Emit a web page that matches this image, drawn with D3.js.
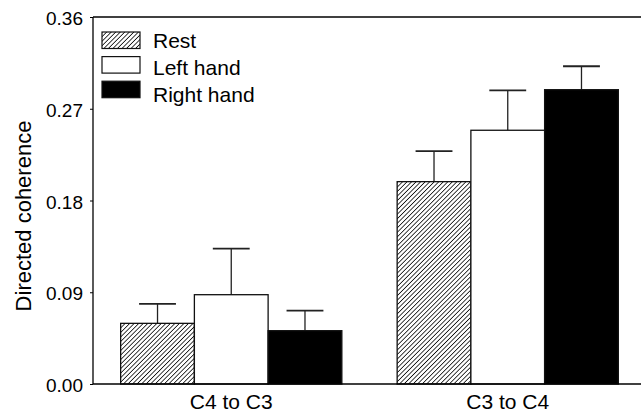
<!DOCTYPE html>
<html>
<head>
<meta charset="utf-8">
<script src="https://cdn.jsdelivr.net/npm/d3@7"></script>
<style>
  body { margin: 0; background: #fff; }
  text { font-family: "Liberation Sans", Arial, sans-serif; fill: #000; }
</style>
</head>
<body>
<svg id="mainSvg" width="641" height="414"></svg>
<script>
// chart values
var categories = ["C4 to C3", "C3 to C4"];
var conditions = ["Rest", "Left hand", "Right hand"];
var rest = [0.0595, 0.1985];
var restErr = [0.0190, 0.0300];
var leftHand = [0.0876, 0.2489];
var leftHandErr = [0.0451, 0.0391];
var rightHand = [0.0523, 0.2887];
var rightHandErr = [0.0196, 0.0230];
var yTicks = [0.00, 0.09, 0.18, 0.27, 0.36];

var series = [rest, leftHand, rightHand];
var errors = [restErr, leftHandErr, rightHandErr];

var svg = d3.select("#mainSvg");
var plotLeft = 93, plotRight = 641, plotTop = 17, plotBottom = 384;

// hatch pattern for the rest bars
var defs = svg.append("defs");
defs.append("pattern").attr("id", "hatch").attr("patternUnits", "userSpaceOnUse")
    .attr("width", 3.2).attr("height", 3.2).attr("patternTransform", "rotate(45)")
    .append("line").attr("x1", 0).attr("y1", 0).attr("x2", 0).attr("y2", 3.2)
    .attr("stroke", "#000").attr("stroke-width", 1.5);

var fills = ["url(#hatch)", "#fff", "#000"];

var x = d3.scaleBand().domain(categories).range([plotLeft, 646]).paddingInner(0.2).paddingOuter(0.1);
var xSub = d3.scaleBand().domain(conditions).range([0, x.bandwidth()]);
var y = d3.scaleLinear().domain([0, 0.36]).range([plotBottom, plotTop]);

// flatten into one row per bar
var bars = [];
categories.forEach(function (c, i) {
    conditions.forEach(function (k, j) {
        bars.push({cat: c, cond: k, idx: j, value: series[j][i], err: errors[j][i]});
    });
});

function barMid(d) { return x(d.cat) + xSub(d.cond) + xSub.bandwidth() / 2; }

// error bars (drawn first so the bar tops cover the stems)
var eb = svg.append("g").attr("stroke", "#222").attr("stroke-width", 1.3);
eb.selectAll(".stem").data(bars).enter().append("line")
    .attr("x1", barMid).attr("x2", barMid)
    .attr("y1", function (d) { return y(d.value); })
    .attr("y2", function (d) { return y(d.value + d.err); });
eb.selectAll(".cap").data(bars).enter().append("line")
    .attr("x1", function (d) { return barMid(d) - xSub.bandwidth() / 4; })
    .attr("x2", function (d) { return barMid(d) + xSub.bandwidth() / 4; })
    .attr("y1", function (d) { return y(d.value + d.err); })
    .attr("y2", function (d) { return y(d.value + d.err); })
    .attr("stroke-width", 1.8);

svg.selectAll(".bar").data(bars).enter().append("rect")
    .attr("x", function (d) { return x(d.cat) + xSub(d.cond); })
    .attr("y", function (d) { return y(d.value); })
    .attr("width", xSub.bandwidth())
    .attr("height", function (d) { return y(0) - y(d.value); })
    .attr("fill", function (d) { return fills[d.idx]; })
    .attr("stroke", "#111").attr("stroke-width", 1.3);

// axes
var yAxis = d3.axisLeft(y).tickValues(yTicks).tickFormat(d3.format(".2f")).tickSize(3).tickPadding(7);
var gy = svg.append("g").attr("transform", "translate(" + plotLeft + ",0)").call(yAxis);
gy.select(".domain").remove();
gy.selectAll("text").style("font-size", "19px").attr("fill", "#000").attr("dy", "0.4em");
gy.selectAll("line").attr("stroke", "#000");

svg.append("line").attr("x1", plotLeft).attr("x2", plotLeft).attr("y1", plotTop).attr("y2", plotBottom)
    .attr("stroke", "#000").attr("stroke-width", 1.3);
svg.append("line").attr("x1", plotLeft).attr("x2", plotRight).attr("y1", plotTop).attr("y2", plotTop)
    .attr("stroke", "#000").attr("stroke-width", 1.3);
svg.append("line").attr("x1", plotLeft).attr("x2", plotRight).attr("y1", plotBottom).attr("y2", plotBottom)
    .attr("stroke", "#000").attr("stroke-width", 1.3);

var xAxis = d3.axisBottom(x).tickSize(0);
var gx = svg.append("g").attr("transform", "translate(0," + plotBottom + ")").call(xAxis);
gx.select(".domain").remove();
gx.selectAll("text").style("font-size", "21px").attr("fill", "#000").attr("y", 25).attr("dy", 0);

svg.append("text").attr("transform", "translate(31,216) rotate(-90)")
    .attr("text-anchor", "middle").style("font-size", "22px").text("Directed coherence");

// legend
var legend = svg.append("g").attr("transform", "translate(102,0)");
legend.selectAll(".sw").data(conditions).enter().append("rect")
    .attr("y", function (d, i) { return 32 + i * 24.6; })
    .attr("width", 38).attr("height", 16.5)
    .attr("fill", function (d, i) { return fills[i]; })
    .attr("stroke", "#111").attr("stroke-width", 1.2);
legend.selectAll(".lt").data(conditions).enter().append("text")
    .attr("x", 51).attr("y", function (d, i) { return 48 + i * 27; })
    .style("font-size", "21px").text(function (d) { return d; });
</script>
</body>
</html>
